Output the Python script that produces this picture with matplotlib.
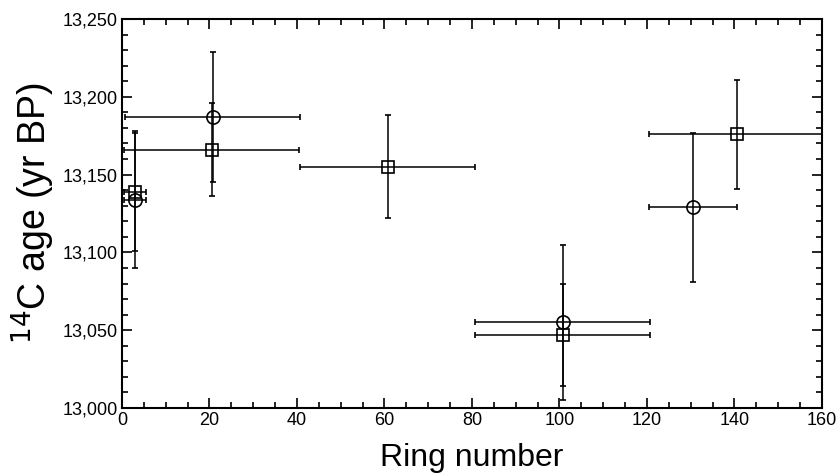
import matplotlib.pyplot as plt
from matplotlib.ticker import MultipleLocator, FuncFormatter

plt.rcParams['font.family'] = ['Liberation Sans', 'DejaVu Sans']

# square symbols
sq_ring = [3, 20.5, 60.8, 100.8, 140.5]
sq_ring_err = [2.5, 20, 20, 20, 20]
sq_age = [13139, 13166, 13155, 13047, 13176]
sq_age_err = [38, 30, 33, 33, 35]

# circle symbols
ci_ring = [3, 20.7, 100.8, 130.5]
ci_ring_err = [2.5, 20, 20, 10]
ci_age = [13134, 13187, 13055, 13129]
ci_age_err = [44, 42, 50, 48]

fig = plt.figure(figsize=(8.39, 4.73), dpi=100)
ax = fig.add_axes([0.1454, 0.1374, 0.8343, 0.8224])

ax.errorbar(sq_ring, sq_age, xerr=sq_ring_err, yerr=sq_age_err, fmt='s',
            mfc='none', mec='black', ms=8, mew=1.2, ecolor='black',
            elinewidth=1.1, capsize=2.5, capthick=1.1)
ax.errorbar(ci_ring, ci_age, xerr=ci_ring_err, yerr=ci_age_err, fmt='o',
            mfc='none', mec='black', ms=9.5, mew=1.2, ecolor='black',
            elinewidth=1.1, capsize=2.5, capthick=1.1)

ax.set_xlim(0, 160)
ax.set_ylim(13000, 13250)
ax.xaxis.set_major_locator(MultipleLocator(20))
ax.xaxis.set_minor_locator(MultipleLocator(5))
ax.yaxis.set_major_locator(MultipleLocator(50))
ax.yaxis.set_minor_locator(MultipleLocator(10))
ax.yaxis.set_major_formatter(FuncFormatter(lambda v, p: f"{int(v):,}"))

ax.tick_params(which='both', direction='in', top=True, right=True,
               labelsize=13, width=1.2, pad=3)
ax.tick_params(which='major', length=7)
ax.tick_params(which='minor', length=4)
for s in ax.spines.values():
    s.set_linewidth(1.5)

ax.set_xlabel("Ring number", fontsize=23, labelpad=10)
ax.set_ylabel("$^{14}$C age (yr BP)", fontsize=27, labelpad=4)

fig.savefig("out.png", dpi=100)
